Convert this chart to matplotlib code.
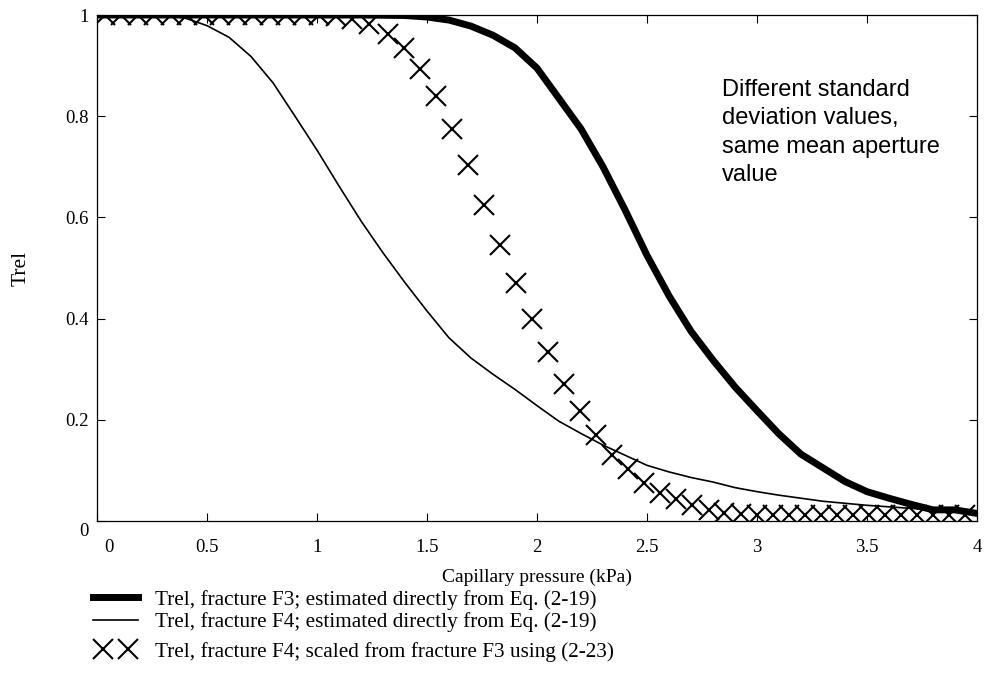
import numpy as np
import matplotlib
matplotlib.use("Agg")
import matplotlib.pyplot as plt
import matplotlib.transforms as mtransforms
from matplotlib.legend_handler import HandlerLine2D

plt.rcParams['font.family'] = ['Liberation Serif', 'DejaVu Serif']

# fracture F3, estimated directly from Eq. (2-19)
p_f3 = [0.0, 0.5, 1.0, 1.2, 1.4, 1.5, 1.6, 1.7, 1.8, 1.9, 2.0, 2.1, 2.2, 2.3, 2.4, 2.5,
        2.6, 2.7, 2.8, 2.9, 3.0, 3.1, 3.2, 3.3, 3.4, 3.5, 3.6, 3.7, 3.8, 3.9, 4.0]
t_f3 = [1.0, 1.0, 1.0, 1.0, 0.999, 0.996, 0.99, 0.978, 0.96, 0.935, 0.895, 0.835, 0.775, 0.70,
        0.615, 0.525, 0.445, 0.375, 0.318, 0.265, 0.218, 0.172, 0.132, 0.105, 0.078, 0.058, 0.045,
        0.033, 0.022, 0.022, 0.015]

# fracture F4, estimated directly from Eq. (2-19)
p_f4 = [0.0, 0.2, 0.3, 0.4, 0.5, 0.6, 0.7, 0.8, 0.9, 1.0, 1.1, 1.2, 1.3, 1.4, 1.5, 1.6, 1.7,
        1.8, 1.9, 2.0, 2.1, 2.2, 2.3, 2.4, 2.5, 2.6, 2.7, 2.8, 2.9, 3.0, 3.1, 3.2, 3.3, 3.4,
        3.5, 3.6, 3.7, 3.8, 3.9, 4.0]
t_f4 = [1.0, 1.0, 0.999, 0.994, 0.979, 0.956, 0.918, 0.866, 0.80, 0.733, 0.662, 0.593, 0.530,
        0.471, 0.415, 0.362, 0.322, 0.29, 0.26, 0.228, 0.197, 0.173, 0.15, 0.13, 0.11, 0.097,
        0.086, 0.077, 0.066, 0.058, 0.051, 0.045, 0.039, 0.035, 0.031, 0.028, 0.025, 0.022,
        0.02, 0.018]

# fracture F4, scaled from fracture F3 using (2-23)
p_sc = [0.036, 0.111, 0.186, 0.261, 0.336, 0.411, 0.486, 0.561, 0.636, 0.711, 0.786, 0.861,
        0.936, 1.011, 1.086, 1.160, 1.238, 1.321, 1.394, 1.468, 1.541, 1.612, 1.685, 1.761,
        1.833, 1.905, 1.977, 2.048, 2.124, 2.195, 2.268, 2.341, 2.412, 2.488, 2.561, 2.632,
        2.705, 2.780, 2.852, 2.925, 2.998, 3.071, 3.144, 3.217, 3.290, 3.363, 3.436, 3.509,
        3.582, 3.655, 3.728, 3.801, 3.874, 3.947]
t_sc = [1.0, 1.0, 1.0, 1.0, 1.0, 1.0, 1.0, 1.0, 1.0, 1.0, 1.0, 1.0, 1.0, 1.0, 0.998, 0.993,
        0.982, 0.962, 0.934, 0.893, 0.839, 0.775, 0.704, 0.625, 0.546, 0.470, 0.400, 0.334,
        0.270, 0.218, 0.170, 0.130, 0.102, 0.076, 0.056, 0.044, 0.032, 0.022, 0.016, 0.013,
        0.012, 0.012, 0.012, 0.012, 0.012, 0.012, 0.012, 0.012, 0.012, 0.012, 0.012, 0.012,
        0.012, 0.012]

labels = ['Trel, fracture F3; estimated directly from Eq. (2-19)',
          'Trel, fracture F4; estimated directly from Eq. (2-19)',
          'Trel, fracture F4; scaled from fracture F3 using (2-23)']

note = 'Different standard\ndeviation values,\nsame mean aperture\nvalue'

fig = plt.figure(figsize=(9.88, 6.97), dpi=100)
ax = fig.add_axes([97 / 988, 1 - 521 / 697, 880 / 988, 506 / 697])

l1, = ax.plot(p_f3, t_f3, color='black', lw=5)
l2, = ax.plot(p_f4, t_f4, color='black', lw=1.2)
l3, = ax.plot(p_sc, t_sc, ls='none', marker='x', ms=14, mew=1.5, color='black')

ax.set_xlim(0, 4)
ax.set_ylim(0, 1)
ax.set_xticks(np.arange(0, 4.01, 0.5))
ax.set_xticklabels(['0', '0.5', '1', '1.5', '2', '2.5', '3', '3.5', '4'])
ax.set_yticks(np.arange(0, 1.01, 0.2))
ax.set_yticklabels(['0', '0.2', '0.4', '0.6', '0.8', '1'])
ax.tick_params(direction='in', length=6, width=0.8, top=True, right=True, labelsize=13.5)
ax.tick_params(axis='x', pad=13)
ax.tick_params(axis='y', pad=6)
for s in ax.spines.values():
    s.set_linewidth(0.9)

# nudge the corner labels like the original
xl0 = ax.get_xticklabels()[0]
xl0.set_transform(xl0.get_transform() + mtransforms.ScaledTranslation(0.12, 0, fig.dpi_scale_trans))
yl0 = ax.get_yticklabels()[0]
yl0.set_transform(yl0.get_transform() + mtransforms.ScaledTranslation(0, -0.09, fig.dpi_scale_trans))

ax.set_ylabel('Trel', fontsize=15.5, labelpad=25)
ax.set_xlabel('Capillary pressure (kPa)', fontsize=14, labelpad=9)

ax.text(2.84, 0.873, note, fontsize=17, family=['Liberation Sans', 'DejaVu Sans'],
        va='top', ha='left', linespacing=1.36)

leg_kw = dict(loc='upper left', frameon=False, fontsize=15.3, handlelength=2.1,
              handletextpad=0.8, labelspacing=0.12, borderpad=0, borderaxespad=0)
fig.legend([l1, l2], labels[:2], bbox_to_anchor=(93 / 988, 1 - 590 / 697), **leg_kw)
fig.legend([l3], labels[2:], bbox_to_anchor=(93 / 988, 1 - 642 / 697), numpoints=2,
           handler_map={l3: HandlerLine2D(marker_pad=0.45)}, **leg_kw)

fig.savefig('out.png', dpi=100)
